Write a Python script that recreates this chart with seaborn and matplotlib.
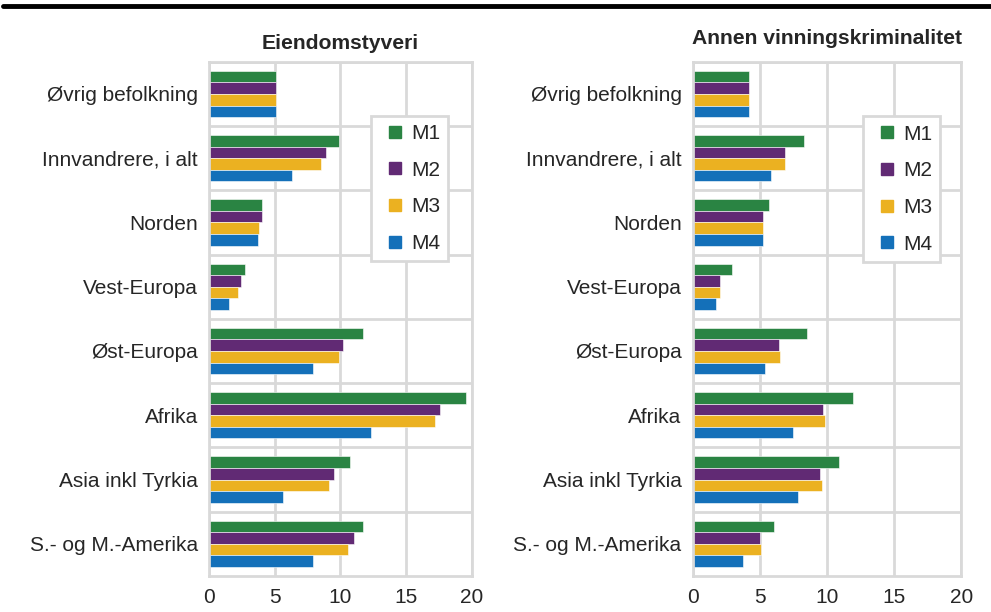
"""
Eiendomstyveri / annen vinningskriminalitet etter landbakgrunn, modell M1-M4
"""

# %% --------------------------------------------------------------------------
# Imports
# -----------------------------------------------------------------------------
import numpy as np
import pandas as pd
import matplotlib.pyplot as plt
import seaborn as sns

# %% --------------------------------------------------------------------------
# Data
# -----------------------------------------------------------------------------
groups = ["Øvrig befolkning", "Innvandrere, i alt", "Norden", "Vest-Europa",
          "Øst-Europa", "Afrika", "Asia inkl Tyrkia", "S.- og M.-Amerika"]
models = ["M1", "M2", "M3", "M4"]

eiendom_m1 = [5.1, 9.9, 4.0, 2.7, 11.7, 19.6, 10.7, 11.7]
eiendom_m2 = [5.1, 8.9, 4.0, 2.4, 10.2, 17.6, 9.5, 11.05]
eiendom_m3 = [5.1, 8.5, 3.8, 2.2, 9.9, 17.2, 9.1, 10.6]
eiendom_m4 = [5.1, 6.3, 3.7, 1.5, 7.9, 12.3, 5.6, 7.9]

annen_m1 = [4.2, 8.3, 5.7, 2.95, 8.5, 11.9, 10.9, 6.05]
annen_m2 = [4.2, 6.9, 5.25, 2.0, 6.4, 9.7, 9.45, 5.0]
annen_m3 = [4.2, 6.9, 5.2, 2.0, 6.5, 9.85, 9.6, 5.1]
annen_m4 = [4.2, 5.85, 5.2, 1.7, 5.4, 7.5, 7.85, 3.75]

xticks = [0, 5, 10, 15, 20]
colors = ["#2a8443", "#612a74", "#ebb121", "#1470b9"]
grid_col = "#d9d9d9"


def long_df(series):
    rows = []
    for m, vals in zip(models, series):
        for g, v in zip(groups, vals):
            rows.append({"gruppe": g, "modell": m, "verdi": v})
    return pd.DataFrame(rows)


# %% --------------------------------------------------------------------------
# Plot
# -----------------------------------------------------------------------------
sns.set_theme(style="white")
plt.rcParams["font.family"] = ["Liberation Sans", "DejaVu Sans"]

fig = plt.figure(figsize=(9.91, 6.12), dpi=100)
ax1 = fig.add_axes([0.211, 0.059, 0.265, 0.840])
ax2 = fig.add_axes([0.699, 0.059, 0.271, 0.840])

panels = [
    (ax1, "Eiendomstyveri", [eiendom_m1, eiendom_m2, eiendom_m3, eiendom_m4],
     (0.4137, 0.692), 1.025),
    (ax2, "Annen vinningskriminalitet", [annen_m1, annen_m2, annen_m3, annen_m4],
     (0.910, 0.691), 1.035),
]

for ax, title, series, leg_pos, ty in panels:
    df = long_df(series)
    sns.barplot(data=df, y="gruppe", x="verdi", hue="modell", orient="h",
                palette=colors, saturation=1, width=0.72, ax=ax,
                edgecolor="white", linewidth=0.4, legend=False)
    ax.set_xlim(0, 20)
    ax.set_xticks(xticks)
    ax.set_xlabel("")
    ax.set_ylabel("")
    ax.set_ylim(len(groups) - 0.5, -0.5)
    ax.set_yticks(np.arange(len(groups)) - 0.5, minor=False)
    ax.set_yticks(np.arange(len(groups)), minor=True)
    ax.set_yticklabels([], minor=False)
    ax.set_yticklabels(groups, minor=True)
    ax.tick_params(axis="y", which="both", length=0, pad=8, labelsize=15)
    ax.tick_params(axis="x", length=0, pad=9, labelsize=15)
    ax.grid(True, axis="both", which="major", color=grid_col, linewidth=2)
    ax.set_axisbelow(True)
    for s in ax.spines.values():
        s.set_color(grid_col)
        s.set_linewidth(2)
    ax.set_title(title, fontsize=15.2, fontweight="bold", pad=0, y=ty)

    handles = [plt.Line2D([], [], marker="s", linestyle="", color=c,
                          markersize=8) for c in colors]
    leg = ax.legend(handles, models, loc="center", frameon=True,
                    bbox_to_anchor=leg_pos, bbox_transform=fig.transFigure,
                    fontsize=15, labelspacing=0.85, handletextpad=0.0,
                    handlelength=1.5, borderpad=0.4, fancybox=False,
                    framealpha=1)
    leg.get_frame().set_edgecolor(grid_col)
    leg.get_frame().set_linewidth(2)

# thick rule at the top of the figure
fig.add_artist(plt.Line2D([0.003, 1.0], [0.991, 0.991], color="black",
                          linewidth=3.5, transform=fig.transFigure))

fig.savefig("out.png", dpi=100)
